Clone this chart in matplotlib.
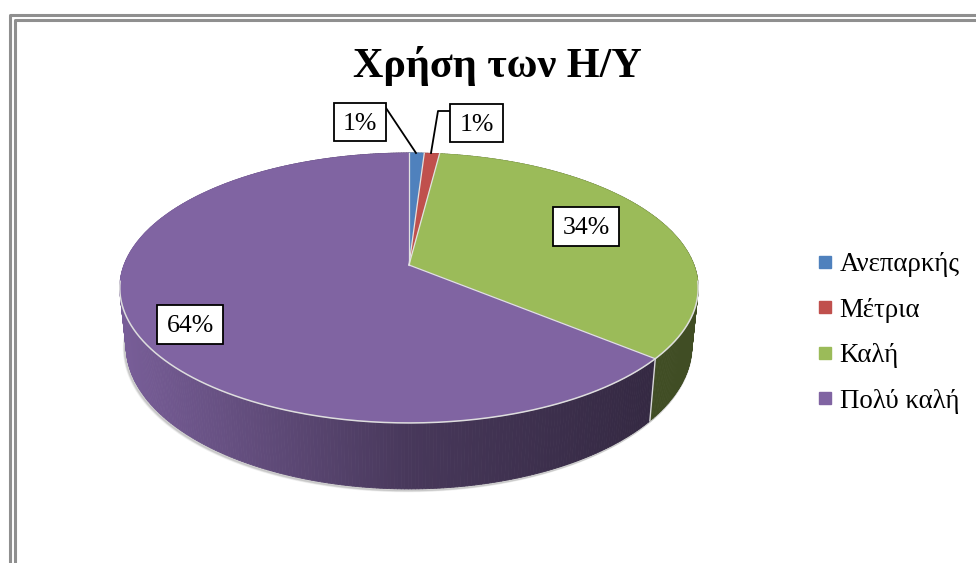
import numpy as np
import matplotlib
matplotlib.use('Agg')
import matplotlib.pyplot as plt
from matplotlib.collections import PolyCollection
from matplotlib.lines import Line2D
from matplotlib.patches import Polygon, Rectangle

# datos del grafico
titulo = 'Χρήση των Η/Υ'
categorias = ['Ανεπαρκής', 'Μέτρια', 'Καλή', 'Πολύ καλή']
valores = [1, 1, 34, 64]
colores = ['#4f81bd', '#c0504d', '#9bbb59', '#8064a2']

plt.rcParams['font.family'] = ['Liberation Serif', 'DejaVu Serif']

fig = plt.figure(figsize=(9.76, 5.63), dpi=100)
ax = fig.add_axes([0, 0, 1, 1])
ax.set_xlim(0, 976)
ax.set_ylim(563, 0)
ax.axis('off')

# marco doble, cortado por la derecha y por abajo
for m, c in [(9.5, 14.5), (14.5, 19.5)]:
    ax.plot([m, m, 976], [563, c, c], color='#8f8f8f', lw=2.2, solid_joinstyle='round')

# proyeccion en perspectiva del circulo
cx, cy = 409, 288
k, B, A, apice = 0.17, 135, 285, 23


def borde(t):
    X, Y = np.sin(t), np.cos(t)
    den = 1 + k * Y
    return cx + A * X / den, cy - (B * Y + apice) / den


def borde_inf(t):
    x, y = borde(t)
    prof = 58 + 8 * (y - cy) / 135
    return cx + (x - cx) * 0.978, y + prof


def sombra(x):
    return np.interp(x, [125, 409, 650], [0.93, 0.56, 0.41])


limites = 2 * np.pi * np.concatenate([[0], np.cumsum(valores)]) / sum(valores)

# sombra suave debajo del pastel
tt = np.radians(np.linspace(85, 285, 300))
xi, yi = borde_inf(tt)
for off, al in [(4, 0.10), (3, 0.15), (2, 0.25)]:
    ax.plot(xi - off * 0.5, yi + off * 0.5, color='#808080', alpha=al, lw=2, zorder=1)
ax.plot(xi, yi + 0.5, color='#d0d0d0', lw=1.2, zorder=1.5)

# lado del pastel, con el degradado
for i, color in enumerate(colores):
    tramo = np.linspace(limites[i], limites[i + 1], max(3, int(valores[i] * 6)))
    xs, ys = borde(tramo)
    xb, yb = borde_inf(tramo)
    quads = []
    cols = []
    base = np.array(matplotlib.colors.to_rgb(color))
    for j in range(len(tramo) - 1):
        quads.append([(xs[j], ys[j]), (xs[j + 1], ys[j + 1]), (xb[j + 1], yb[j + 1]), (xb[j], yb[j])])
        cols.append(base * sombra((xs[j] + xs[j + 1]) / 2))
    ax.add_collection(PolyCollection(quads, facecolors=cols, edgecolors=cols, linewidths=0.6, zorder=2))
    ax.plot([xs[0], xb[0]], [ys[0], yb[0]], color='#d8d8d8', lw=1, zorder=2.2)

# cara superior
for i, color in enumerate(colores):
    tramo = np.linspace(limites[i], limites[i + 1], max(8, int(valores[i] * 6)))
    xs, ys = borde(tramo)
    pts = [(cx, cy - apice)] + list(zip(xs, ys))
    ax.add_patch(Polygon(pts, closed=True, facecolor=color, edgecolor=color, lw=0.5, zorder=3))
    ax.plot([xs[0], cx], [ys[0], cy - apice], color='#e2e2e2', lw=0.9, zorder=3.2)

# brillo del borde frontal
tt = np.radians(np.linspace(97, 263, 300))
xr, yr = borde(tt)
ax.plot(xr, yr, color='#dedede', lw=1.1, zorder=3.3)

# etiquetas
etiquetas = [f'{v}%' for v in valores]
cajas = [(334, 103, 52, 38), (450, 104, 53, 38), (553, 207, 66, 39), (157, 305, 66, 39)]

# lineas guia de las etiquetas pequenas
ax.plot([386, 416], [108, 153], color='black', lw=1.3, zorder=4)
ax.plot([450, 438, 431], [111, 111, 153], color='black', lw=1.3, zorder=4)

for txt, (x0, y0, w, h) in zip(etiquetas, cajas):
    ax.add_patch(Rectangle((x0, y0), w, h, facecolor='white', edgecolor='black', lw=1.3, zorder=5))
    ax.text(x0 + w / 2, y0 + h / 2 + 2, txt, ha='center', va='center', fontsize=18.5, color='black', zorder=6)

ax.text(497, 66, titulo, ha='center', va='center', fontsize=30.3, fontweight='bold', color='black')

# leyenda
manijas = [Line2D([], [], linestyle='none', marker='s', markersize=8.5, color=c) for c in colores]
ax.legend(manijas, categorias, loc='center left', bbox_to_anchor=(810 / 976, 1 - 333 / 563),
          frameon=False, fontsize=19.4, labelspacing=0.76, handletextpad=0,
          handlelength=1.1, borderpad=0, borderaxespad=0)

plt.savefig('out.png', dpi=100)
